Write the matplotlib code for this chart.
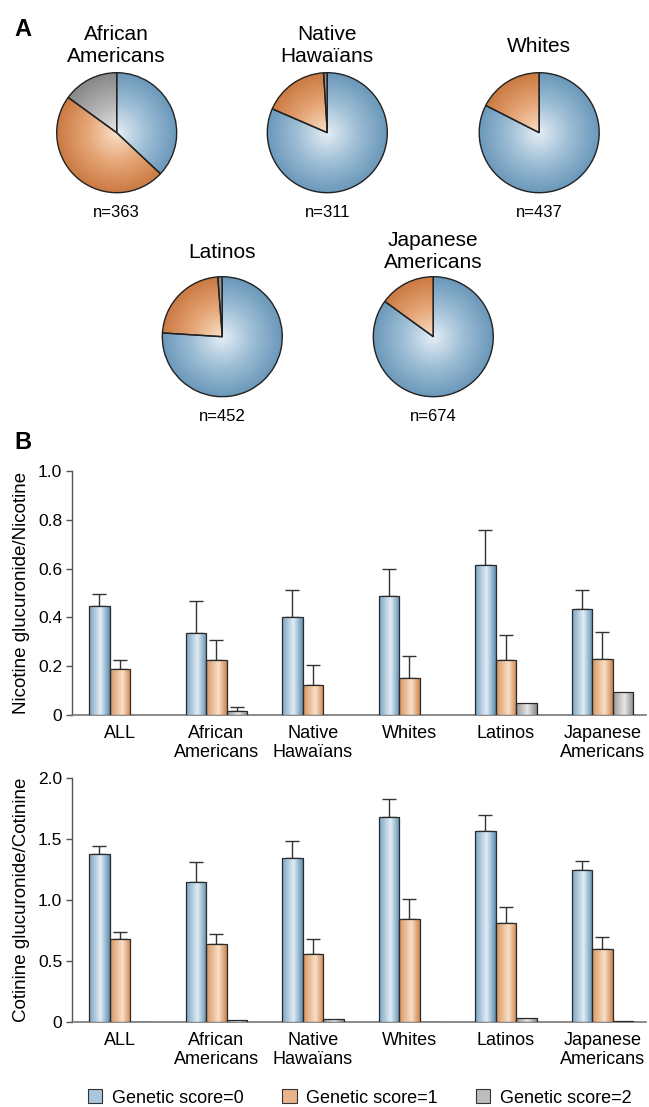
import numpy as np
import matplotlib
matplotlib.use("Agg")
from matplotlib import pyplot as plt
from matplotlib.colors import LinearSegmentedColormap
from matplotlib.patches import Patch

plt.rcParams['font.family'] = ['Liberation Sans', 'DejaVu Sans']

# ---- data ----
pie_groups = ["African\nAmericans", "Native\nHawaïans", "Whites", "Latinos", "Japanese\nAmericans"]
pie_n = [363, 311, 437, 452, 674]
# share (%) of genetic score 0 / 1 / 2
pie_score0 = [37.0, 81.5, 82.5, 76.0, 85.0]
pie_score1 = [48.0, 17.5, 17.5, 22.8, 15.0]
pie_score2 = [15.0, 1.0, 0.0, 1.2, 0.0]

bar_groups = ["ALL", "African\nAmericans", "Native\nHawaïans", "Whites", "Latinos", "Japanese\nAmericans"]

nic_score0 = [0.447, 0.335, 0.403, 0.488, 0.615, 0.436]
nic_score0_err = [0.049, 0.134, 0.111, 0.109, 0.143, 0.078]
nic_score1 = [0.187, 0.227, 0.123, 0.153, 0.224, 0.231]
nic_score1_err = [0.037, 0.079, 0.083, 0.087, 0.102, 0.111]
nic_score2 = [np.nan, 0.018, np.nan, np.nan, 0.049, 0.093]
nic_score2_err = [0, 0.015, 0, 0, 0, 0]

cot_score0 = [1.38, 1.15, 1.35, 1.68, 1.571, 1.249]
cot_score0_err = [0.063, 0.16, 0.14, 0.15, 0.129, 0.071]
cot_score1 = [0.683, 0.645, 0.557, 0.847, 0.81, 0.598]
cot_score1_err = [0.055, 0.082, 0.129, 0.163, 0.133, 0.099]
cot_score2 = [0.005, 0.02, 0.03, 0.005, 0.035, 0.012]
cot_score2_err = [0, 0, 0, 0, 0, 0]

legend_labels = ["Genetic score=0", "Genetic score=1", "Genetic score=2"]

# colour ramps (bar: left dark -> highlight -> right dark, pie: centre light -> rim dark)
bar_cmaps = [
    LinearSegmentedColormap.from_list("b", [(0, "#78a4c4"), (0.55, "#e3edf5"), (1, "#5f8fb0")]),
    LinearSegmentedColormap.from_list("o", [(0, "#d8955f"), (0.6, "#f8e0c8"), (1, "#cc844f")]),
    LinearSegmentedColormap.from_list("g", [(0, "#9a9a9a"), (0.55, "#e6e6e6"), (1, "#8a8a8a")]),
]
pie_cmaps = [
    LinearSegmentedColormap.from_list("pb", ["#e4edf5", "#9fbfd6", "#6b98ba"]),
    LinearSegmentedColormap.from_list("po", ["#f8e0c8", "#e6a677", "#cb7a43"]),
    LinearSegmentedColormap.from_list("pg", ["#e8e8e8", "#b4b4b4", "#888888"]),
]
legend_colors = ["#a9c6dc", "#eab48a", "#bdbdbd"]

W, H = 649, 1107
fig = plt.figure(figsize=(W / 100, H / 100), dpi=100)


def fig_box(cx, cy, w, h):
    # pixel box (centre, size) -> figure fraction
    return [(cx - w / 2) / W, 1 - (cy + h / 2) / H, w / W, h / H]


# ---- panel A: pies ----
pie_pos = [(116.7, 132.7), (327.3, 132.7), (539.2, 132.7), (222.3, 336.7), (433.3, 336.7)]
title_y = [46, 46, 46, 252, 252]
r_px = 60
lim = 1.04

yy, xx = np.mgrid[-1:1:300j, -1:1:300j]
radial = np.sqrt(xx ** 2 + yy ** 2)

for i, name in enumerate(pie_groups):
    cx, cy = pie_pos[i]
    size = 2 * r_px * lim
    ax = fig.add_axes(fig_box(cx, cy, size, size))
    vals = [pie_score0[i], pie_score1[i], pie_score2[i]]
    keep = [k for k in range(3) if vals[k] > 0]
    wedges, _ = ax.pie([vals[k] for k in keep], startangle=90, counterclock=False,
                       wedgeprops=dict(edgecolor="#222222", linewidth=1.0))
    for w, k in zip(wedges, keep):
        w.set_facecolor("none")
        w.set_zorder(3)
        im = ax.imshow(radial, extent=[-1, 1, -1, 1], cmap=pie_cmaps[k], vmin=0, vmax=1,
                       origin="lower", zorder=2)
        im.set_clip_path(w)
    ax.set_xlim(-lim, lim)
    ax.set_ylim(-lim, lim)
    ax.set_aspect("equal")
    ax.axis("off")
    fig.text(cx / W, 1 - title_y[i] / H, name, ha="center", va="center", fontsize=15)
    fig.text(cx / W, 1 - (cy + 79.5) / H, "n=%d" % pie_n[i], ha="center", va="center", fontsize=12)

fig.text(22.5 / W, 1 - 29 / H, "A", ha="center", va="center", fontsize=17, fontweight="bold")
fig.text(22.5 / W, 1 - 442.5 / H, "B", ha="center", va="center", fontsize=17, fontweight="bold")

# ---- panel B: bars ----
x = np.arange(len(bar_groups))
bw = 0.2125
hgrad = np.linspace(0, 1, 100).reshape(1, -1)


def draw_bars(ax, series, errs, ymax, yticks, ylabel):
    for k in range(3):
        pos = x + (k - 1) * bw
        bars = ax.bar(pos, series[k], width=bw, facecolor="none", edgecolor="#2a2a2a",
                      linewidth=0.9, zorder=4)
        for rect in bars:
            h = rect.get_height()
            if not np.isfinite(h):
                continue
            x0 = rect.get_x()
            im = ax.imshow(hgrad, extent=[x0, x0 + rect.get_width(), 0, h], aspect="auto",
                           cmap=bar_cmaps[k], zorder=3)
            im.set_clip_path(rect)
        e = np.array(errs[k], dtype=float)
        v = np.array(series[k], dtype=float)
        m = np.isfinite(v) & (e > 0)
        ax.errorbar(pos[m], v[m], yerr=[np.zeros(m.sum()), e[m]], fmt="none",
                    ecolor="#333333", elinewidth=1.0, capsize=5, capthick=1.0, zorder=2)
    ax.set_xlim(-0.495, 5.453)
    ax.set_ylim(0, ymax)
    ax.set_yticks(yticks)
    ax.set_yticklabels(["0"] + ["%.1f" % t for t in yticks[1:]])
    ax.set_xticks(x)
    ax.set_xticklabels(bar_groups, fontsize=13, linespacing=1.15)
    ax.tick_params(axis="x", length=0, pad=7)
    ax.tick_params(axis="y", direction="out", length=4, width=1, color="#555555",
                   labelsize=12.5, pad=3)
    for s in ["top", "right"]:
        ax.spines[s].set_visible(False)
    ax.spines["left"].set_color("#555555")
    ax.spines["bottom"].set_color("#777777")
    ax.spines["left"].set_linewidth(1.0)
    ax.spines["bottom"].set_linewidth(1.2)
    ax.set_ylabel(ylabel, fontsize=13.5, labelpad=6)


ax1 = fig.add_axes([72 / W, 1 - 715 / H, 574 / W, 244 / H])
draw_bars(ax1, [nic_score0, nic_score1, nic_score2], [nic_score0_err, nic_score1_err, nic_score2_err],
          1.0, [0, 0.2, 0.4, 0.6, 0.8, 1.0], "Nicotine glucuronide/Nicotine")

ax2 = fig.add_axes([72 / W, 1 - 1022.3 / H, 574 / W, 244 / H])
draw_bars(ax2, [cot_score0, cot_score1, cot_score2], [cot_score0_err, cot_score1_err, cot_score2_err],
          2.0, [0, 0.5, 1.0, 1.5, 2.0], "Cotinine glucuronide/Cotinine")

handles = [Patch(facecolor=c, edgecolor="#333333", linewidth=0.8) for c in legend_colors]
fig.legend(handles, legend_labels, loc="center", bbox_to_anchor=(360 / W, 1 - 1098 / H), ncol=3,
           frameon=False, fontsize=13, handlelength=0.8, handleheight=0.8, handletextpad=0.55,
           columnspacing=2.1, borderaxespad=0, borderpad=0)

fig.savefig("out.png", dpi=100)
